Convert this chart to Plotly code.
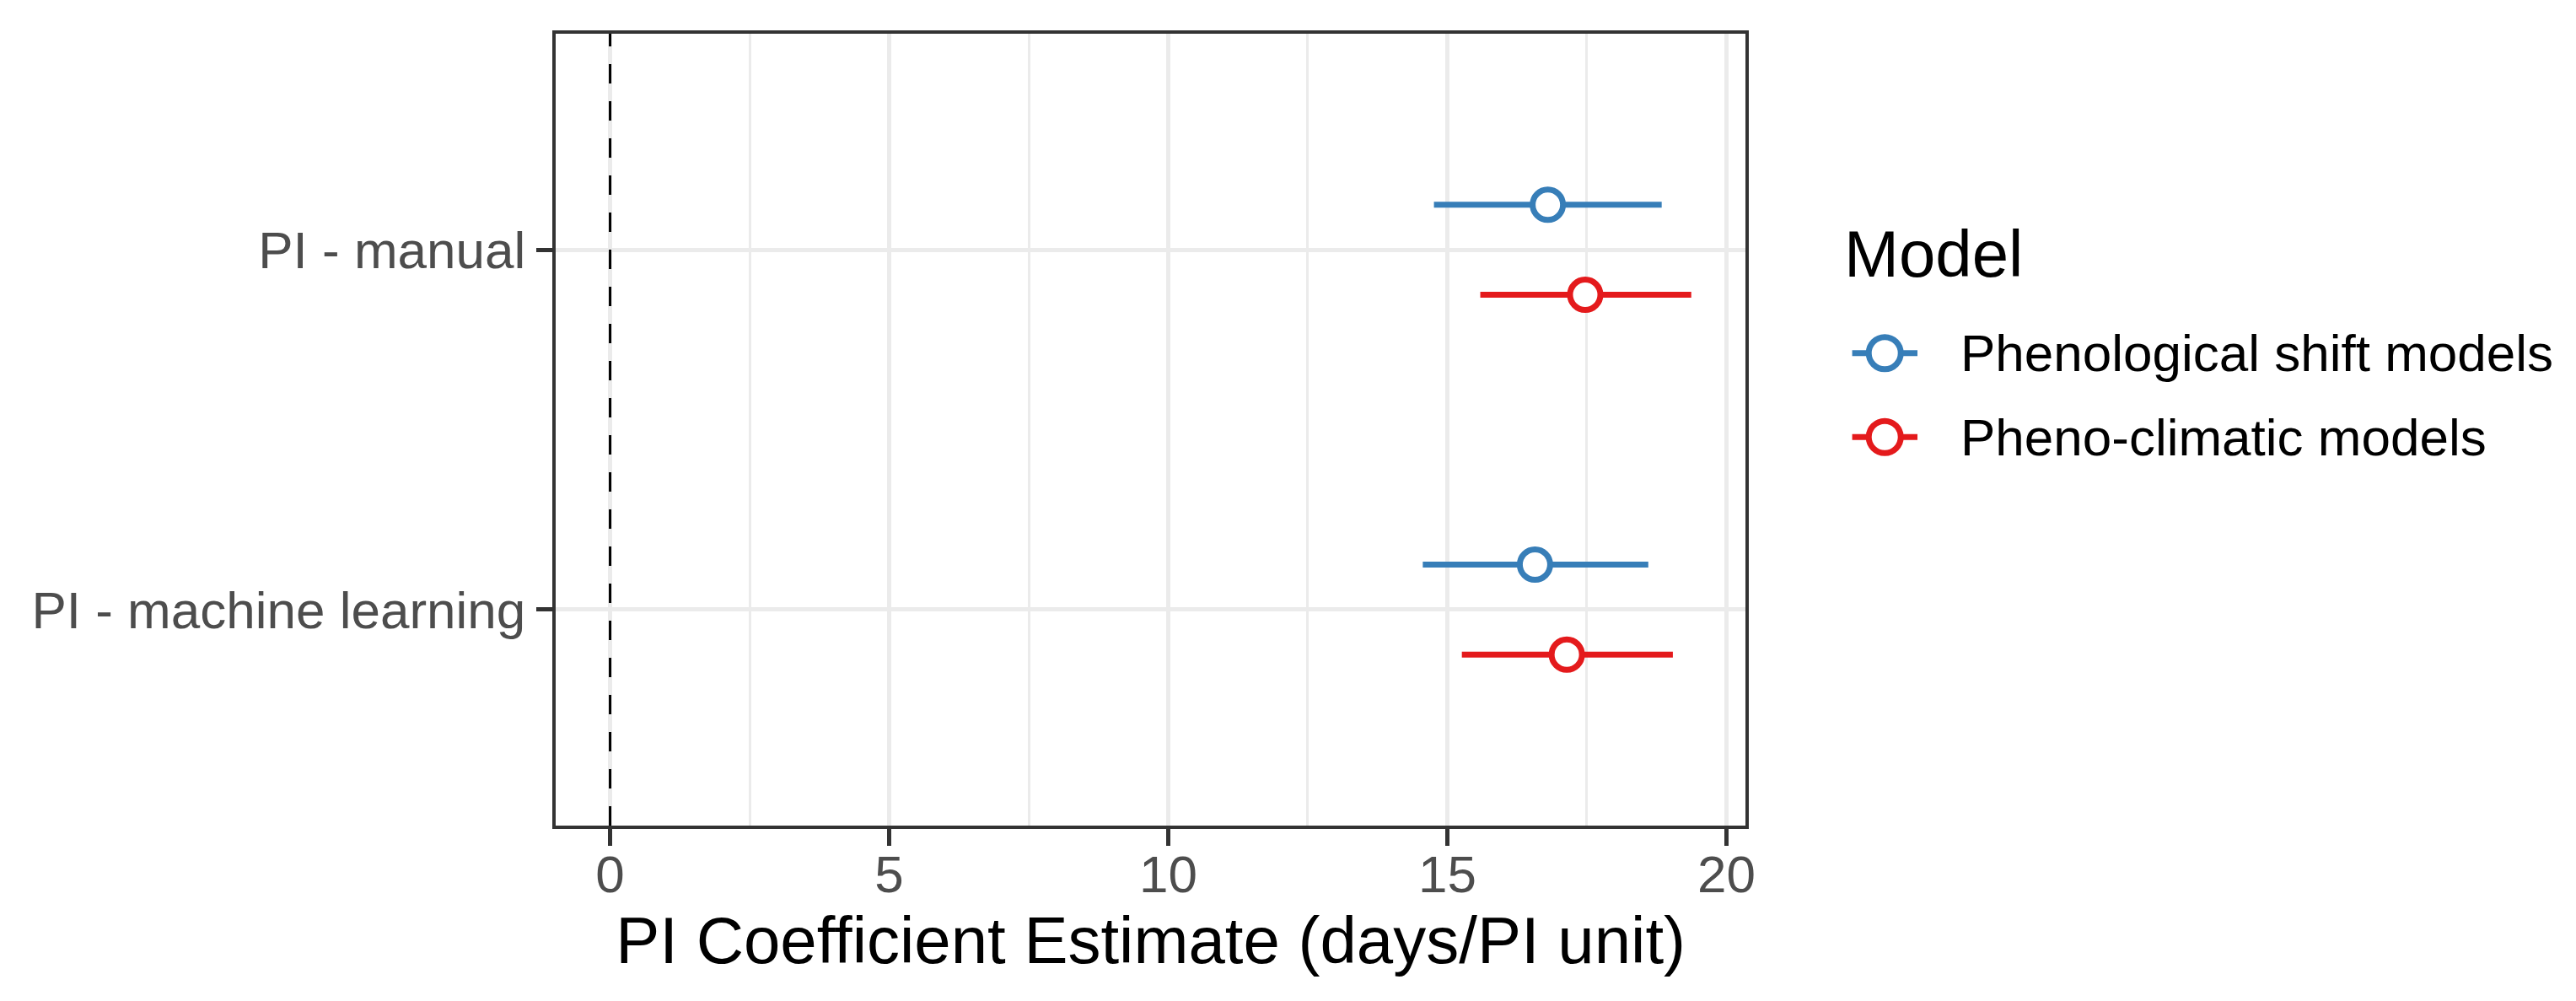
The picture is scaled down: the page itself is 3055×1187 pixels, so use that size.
import plotly.graph_objects as go

# ---------------- data ----------------
categories = ["PI - manual", "PI - machine learning"]
models = ["Phenological shift models", "Pheno-climatic models"]
colors = ["#377EB8", "#E41A1C"]

# estimates and 95% CI per model, ordered as `categories`
est_shift = [16.80, 16.57]
lo_shift = [14.76, 14.56]
hi_shift = [18.84, 18.60]

est_clim = [17.47, 17.14]
lo_clim = [15.59, 15.26]
hi_clim = [19.37, 19.04]

estimates = [est_shift, est_clim]
lows = [lo_shift, lo_clim]
highs = [hi_shift, hi_clim]

x_ticks = [0, 5, 10, 15, 20]
x_minor = [2.5, 7.5, 12.5, 17.5]
REF_LINE = 0
DODGE = 0.25  # offset between models within a category

# ---------------- layout constants (pixels) ----------------
W, H = 3055, 1187
P_LEFT, P_RIGHT, P_TOP, P_BOTTOM = 654, 2070, 32, 971
FONT = "Liberation Sans, Arial, sans-serif"

# category positions: first category at top
ncat = len(categories)
cat_pos = [ncat - i for i in range(ncat)]
offsets = [DODGE / 2, -DODGE / 2]

fig = go.Figure()

for m, name in enumerate(models):
    ys = [p + offsets[m] for p in cat_pos]
    # error bars
    xs_line, ys_line = [], []
    for i in range(ncat):
        xs_line += [lows[m][i], highs[m][i], None]
        ys_line += [ys[i], ys[i], None]
    fig.add_trace(go.Scatter(
        x=xs_line, y=ys_line, mode="lines",
        line=dict(color=colors[m], width=7),
        showlegend=False, hoverinfo="skip"))
    fig.add_trace(go.Scatter(
        x=estimates[m], y=ys, mode="markers", name=name,
        marker=dict(symbol="circle", size=36, color="white",
                    line=dict(color=colors[m], width=7)),
        showlegend=False))

# ---------------- custom legend (hidden axes) ----------------
for m, name in enumerate(models):
    fig.add_trace(go.Scatter(
        x=[0, 1], y=[m, m], mode="lines", xaxis="x2", yaxis="y2",
        line=dict(color=colors[m], width=7), showlegend=False, hoverinfo="skip"))
    fig.add_trace(go.Scatter(
        x=[0.5], y=[m], mode="markers", xaxis="x2", yaxis="y2",
        marker=dict(symbol="circle", size=38, color="white",
                    line=dict(color=colors[m], width=7)),
        showlegend=False, hoverinfo="skip"))
    fig.add_annotation(
        text=name, xref="paper", yref="y2", x=2324 / W, y=m,
        xanchor="left", yanchor="middle", showarrow=False,
        font=dict(family=FONT, size=62, color="black"))

fig.add_annotation(
    text="Model", xref="paper", yref="paper", x=2186 / W, y=1 - 293 / H,
    xanchor="left", yanchor="middle", showarrow=False,
    font=dict(family=FONT, size=78, color="black"))

# reference dashed line
fig.add_vline(x=REF_LINE, line=dict(color="black", width=3, dash="23px,21px"))

# x range with 5% expansion (ggplot style)
all_lo = min([REF_LINE] + [v for l in lows for v in l])
all_hi = max([REF_LINE] + [v for h in highs for v in h])
pad = 0.05 * (all_hi - all_lo)
x_range = [all_lo - pad, all_hi + pad]

fig.update_layout(
    width=W, height=H,
    margin=dict(l=0, r=0, t=0, b=0),
    paper_bgcolor="white", plot_bgcolor="white",
    font=dict(family=FONT),
    showlegend=False,
    xaxis=dict(
        domain=[P_LEFT / W, P_RIGHT / W],
        range=x_range,
        tickmode="array", tickvals=x_ticks,
        ticktext=[str(v) for v in x_ticks],
        showgrid=True, gridcolor="#EBEBEB", gridwidth=5,
        minor=dict(tickmode="array", tickvals=x_minor, showgrid=True,
                   gridcolor="#EBEBEB", gridwidth=2.5, ticks=""),
        zeroline=False,
        showline=True, linecolor="#333333", linewidth=3.5, mirror=True,
        ticks="outside", ticklen=20, tickwidth=4.5, tickcolor="#333333",
        tickfont=dict(family=FONT, size=62, color="#4D4D4D"),
        ticklabelstandoff=-19,
        title=dict(text="PI Coefficient Estimate (days/PI unit)",
                   font=dict(family=FONT, size=78, color="black"),
                   standoff=14),
        anchor="y",
    ),
    yaxis=dict(
        domain=[1 - P_BOTTOM / H, 1 - P_TOP / H],
        range=[0.4, ncat + 0.6],
        tickmode="array", tickvals=cat_pos, ticktext=categories,
        showgrid=True, gridcolor="#EBEBEB", gridwidth=5,
        zeroline=False,
        showline=True, linecolor="#333333", linewidth=3.5, mirror=True,
        ticks="outside", ticklen=20, tickwidth=4.5, tickcolor="#333333",
        tickfont=dict(family=FONT, size=62, color="#4D4D4D"),
        anchor="x",
    ),
    xaxis2=dict(domain=[2197 / W, 2275 / W], range=[0, 1], visible=False,
                anchor="y2", fixedrange=True),
    yaxis2=dict(domain=[1 - 560 / H, 1 - 361 / H], range=[1.5, -0.5],
                visible=False, anchor="x2", fixedrange=True),
)

fig.write_html("out.html")
